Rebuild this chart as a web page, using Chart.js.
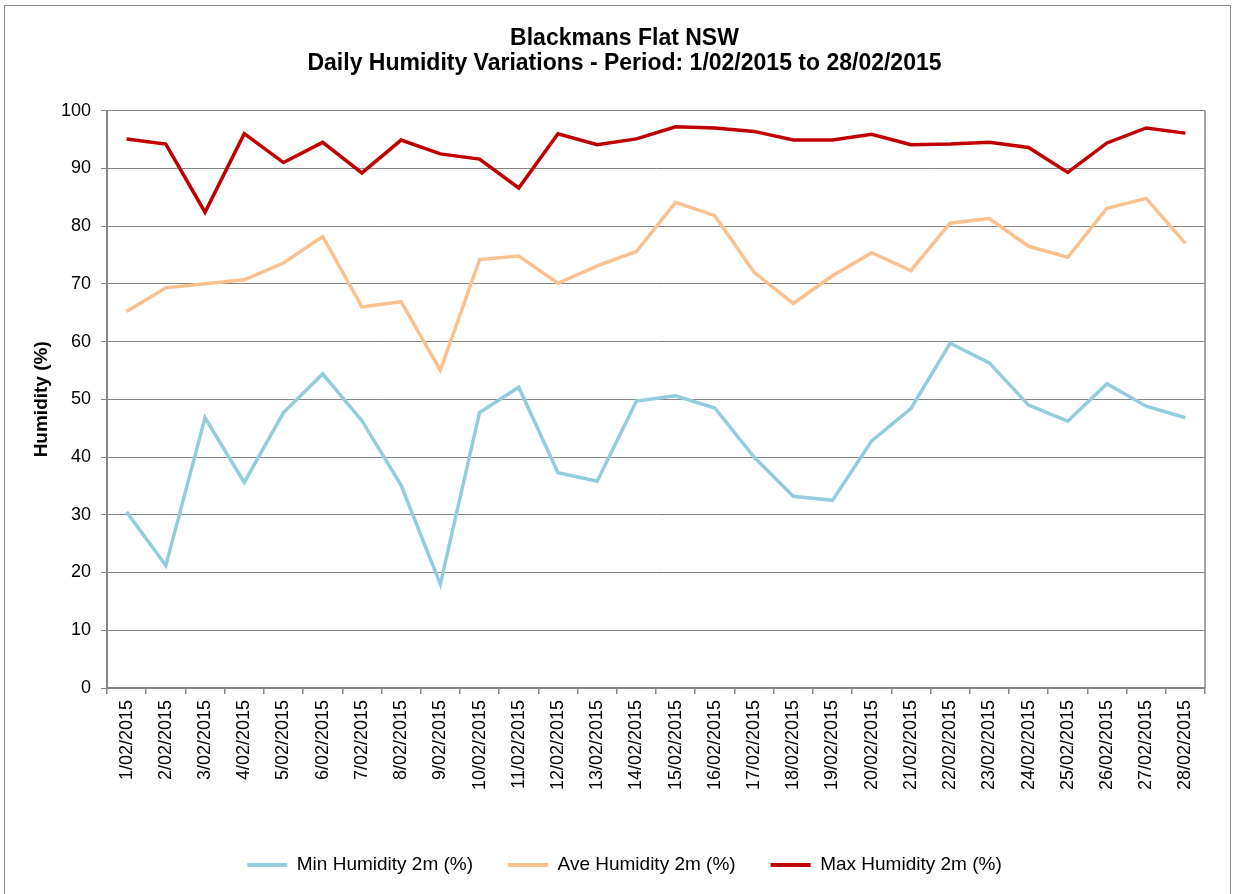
<!DOCTYPE html>
<html>
<head>
<meta charset="utf-8">
<style>
  html, body { margin: 0; padding: 0; background: #ffffff; }
  #wrap { width: 1234px; height: 894px; }
</style>
<script src="https://cdn.jsdelivr.net/npm/chart.js@4/dist/chart.umd.min.js"></script>
</head>
<body>
<div id="wrap"><canvas id="c" width="1234" height="894"></canvas></div>
<script>
const categories = [
  "1/02/2015","2/02/2015","3/02/2015","4/02/2015","5/02/2015","6/02/2015","7/02/2015",
  "8/02/2015","9/02/2015","10/02/2015","11/02/2015","12/02/2015","13/02/2015","14/02/2015",
  "15/02/2015","16/02/2015","17/02/2015","18/02/2015","19/02/2015","20/02/2015","21/02/2015",
  "22/02/2015","23/02/2015","24/02/2015","25/02/2015","26/02/2015","27/02/2015","28/02/2015"
];
const minHumidity = [30.5, 21.2, 46.8, 35.6, 47.7, 54.4, 46.3, 35.1, 18.0, 47.7, 52.1, 37.3, 35.8, 49.7,
                     50.6, 48.5, 40.0, 33.2, 32.5, 42.8, 48.4, 59.7, 56.3, 49.0, 46.2, 52.7, 48.8, 46.8];
const aveHumidity = [65.2, 69.3, 70.0, 70.7, 73.6, 78.2, 66.0, 66.9, 55.0, 74.2, 74.8, 70.1, 73.1, 75.6,
                     84.1, 81.8, 72.0, 66.6, 71.4, 75.4, 72.3, 80.5, 81.3, 76.5, 74.6, 83.1, 84.8, 77.0];
const maxHumidity = [95.1, 94.2, 82.4, 96.0, 91.0, 94.5, 89.2, 94.9, 92.5, 91.6, 86.6, 96.0, 94.1, 95.1,
                     97.2, 97.0, 96.4, 94.9, 94.9, 95.9, 94.1, 94.2, 94.5, 93.6, 89.3, 94.4, 97.0, 96.1];
const seriesNames = ["Min Humidity 2m (%)", "Ave Humidity 2m (%)", "Max Humidity 2m (%)"];
const titleLines = ["Blackmans Flat NSW", "Daily Humidity Variations - Period: 1/02/2015 to 28/02/2015"];
const yAxisTitle = "Humidity (%)";

const FONT = "'Liberation Sans', Arial, Helvetica, sans-serif";
const GRID = "#868686";

const framePlugin = {
  id: 'frame',
  beforeDraw(chart) {
    const ctx = chart.ctx;
    ctx.save();
    ctx.fillStyle = '#ffffff';
    ctx.fillRect(0, 0, chart.width, chart.height);
    ctx.strokeStyle = '#8c8c8c';
    ctx.lineWidth = 1;
    ctx.strokeRect(4.5, 5.5, 1226, 900);
    ctx.restore();
  },
  afterDatasetsDraw(chart) {
    const a = chart.chartArea;
    const ctx = chart.ctx;
    ctx.save();
    ctx.strokeStyle = GRID;
    ctx.lineWidth = 1.5;
    ctx.beginPath();
    ctx.moveTo(a.right, a.top);
    ctx.lineTo(a.right, a.bottom);
    ctx.stroke();
    ctx.restore();
  }
};

Chart.defaults.font.family = FONT;
Chart.defaults.color = '#000000';

new Chart(document.getElementById('c'), {
  type: 'line',
  data: {
    labels: categories,
    datasets: [
      { label: seriesNames[0], data: minHumidity, borderColor: '#93CDDD', backgroundColor: '#93CDDD', borderWidth: 3.5 },
      { label: seriesNames[1], data: aveHumidity, borderColor: '#FAC090', backgroundColor: '#FAC090', borderWidth: 3.5 },
      { label: seriesNames[2], data: maxHumidity, borderColor: '#C00000', backgroundColor: '#C00000', borderWidth: 3.5 }
    ]
  },
  options: {
    responsive: false,
    animation: false,
    devicePixelRatio: 1,
    elements: { point: { radius: 0, hoverRadius: 0 }, line: { tension: 0 } },
    layout: { padding: { left: 44, right: 29, top: 0, bottom: 9.5 } },
    plugins: {
      tooltip: { enabled: false },
      title: {
        display: true,
        text: titleLines,
        font: { size: 23, weight: 'bold', family: FONT, lineHeight: 1.1 },
        color: '#000000',
        padding: { top: 26, bottom: 34 }
      },
      legend: {
        position: 'bottom',
        labels: {
          font: { size: 19, family: FONT },
          color: '#000000',
          boxWidth: 40,
          boxHeight: 4,
          padding: 35,
          generateLabels(chart) {
            const items = Chart.defaults.plugins.legend.labels.generateLabels(chart);
            items.forEach(it => { it.lineWidth = 0; });
            return items;
          }
        }
      }
    },
    scales: {
      x: {
        type: 'category',
        offset: true,
        grid: { display: true, drawOnChartArea: false, offset: true, drawTicks: true, tickLength: 6, color: GRID, lineWidth: 1.5 },
        border: { display: true, color: GRID, width: 2 },
        ticks: { autoSkip: false, minRotation: 90, maxRotation: 90, padding: 6, font: { size: 18, family: FONT }, color: '#000000' },
        afterFit(scale) { scale.height = 132.5; }
      },
      y: {
        min: 0,
        max: 100,
        grid: { color: GRID, lineWidth: 1, drawTicks: true, tickLength: 6 },
        border: { display: true, color: GRID, width: 2 },
        ticks: { stepSize: 10, padding: 10, font: { size: 18, family: FONT }, color: '#000000' },
        title: { display: true, text: yAxisTitle, font: { size: 19, weight: 'bold', family: FONT }, color: '#000000', padding: { top: -14, bottom: 0 } },
        afterFit(scale) { scale.width = 63; }
      }
    }
  },
  plugins: [framePlugin]
});
</script>
</body>
</html>
